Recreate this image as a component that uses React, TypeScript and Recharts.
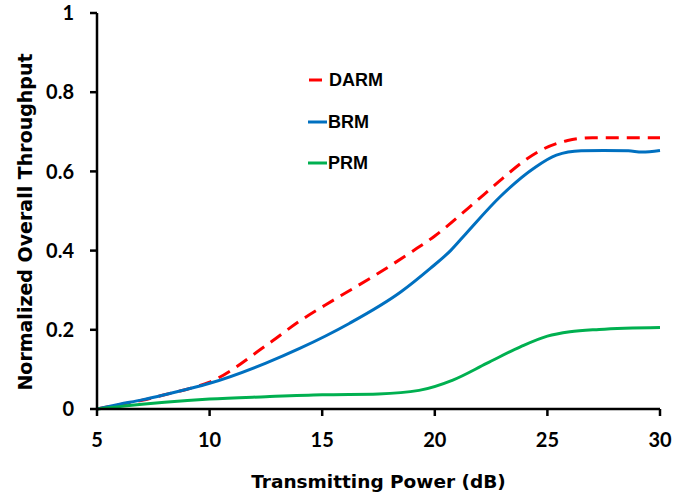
import React from "react";
import { LineChart, Line, XAxis, YAxis } from "recharts";

const xTicks = [5, 10, 15, 20, 25, 30];
const yTicks = [0, 0.2, 0.4, 0.6, 0.8, 1];

const darmX = [5, 6, 7, 8, 9, 10, 12.5, 14, 15.5, 17.3, 19, 20, 21.5, 23, 24, 24.8, 25.9, 27, 28.5, 30];
const darmY = [0, 0.011, 0.022, 0.036, 0.05, 0.068, 0.16, 0.222, 0.275, 0.336, 0.398, 0.437, 0.508, 0.582, 0.628, 0.656, 0.678, 0.685, 0.685, 0.685];

const brmX = [5, 6, 7, 8, 9, 10, 12.5, 14, 16.2, 18.5, 19.8, 20.7, 21.4, 22.9, 24.4, 25.4, 26.5, 27.5, 28.6, 29.2, 30];
const brmY = [0, 0.012, 0.023, 0.036, 0.05, 0.065, 0.116, 0.153, 0.216, 0.296, 0.355, 0.4, 0.444, 0.536, 0.608, 0.641, 0.652, 0.653, 0.652, 0.649, 0.653];

const prmX = [5, 6, 7, 8, 10, 12.5, 15, 17.5, 19.3, 20.8, 22.3, 23.8, 25, 26, 27.3, 30];
const prmY = [0, 0.006, 0.012, 0.017, 0.025, 0.031, 0.036, 0.038, 0.047, 0.073, 0.115, 0.157, 0.184, 0.195, 0.201, 0.206];

const seriesNames = ["DARM", "BRM", "PRM"];
const seriesColors = ["#FF0000", "#0070C0", "#00B050"];

const toData = (xs: number[], ys: number[]) => xs.map((x, i) => ({ x, y: ys[i] }));
const seriesData = [toData(darmX, darmY), toData(brmX, brmY), toData(prmX, prmY)];

const tickFont = { fontFamily: "Lato", fontWeight: 700, fontSize: 20, fill: "#000" };
const titleFont = "DejaVu Sans, sans-serif";
const legendFont = "Liberation Sans, Arial, sans-serif";

export default function App() {
  return (
    <div style={{ position: "absolute", left: 0, top: 0, width: 700, height: 495, background: "#fff" }}>
      <LineChart width={700} height={495} margin={{ top: 13, right: 40, bottom: 56, left: 0 }}>
        <XAxis
          dataKey="x"
          type="number"
          domain={[5, 30]}
          ticks={xTicks}
          height={30}
          allowDuplicatedCategory={false}
          stroke="#000"
          strokeWidth={2.5}
          tickSize={7}
          tickMargin={17}
          tick={tickFont}
          tickLine={{ stroke: "#000", strokeWidth: 2.5 }}
          label={(props: any) => {
            const vb = props.viewBox || { x: 97, width: 563, y: 409 };
            return (
              <text
                x={vb.x + vb.width / 2}
                y={481}
                textAnchor="middle"
                dominantBaseline="central"
                fontFamily={titleFont}
                fontWeight={700}
                fontSize={18.5}
                fill="#000"
              >
                Transmitting Power (dB)
              </text>
            );
          }}
        />
        <YAxis
          type="number"
          domain={[0, 1]}
          ticks={yTicks}
          width={97}
          stroke="#000"
          strokeWidth={2.5}
          tickSize={7}
          tickMargin={16}
          tick={tickFont}
          tickLine={{ stroke: "#000", strokeWidth: 2.5 }}
          label={(props: any) => {
            const vb = props.viewBox || { y: 13, height: 396 };
            const cy = vb.y + vb.height / 2 + 11;
            return (
              <text
                x={25}
                y={cy}
                transform={`rotate(-90 25 ${cy})`}
                textAnchor="middle"
                dominantBaseline="central"
                fontFamily={titleFont}
                fontWeight={700}
                fontSize={19}
                fill="#000"
              >
                Normalized Overall Throughput
              </text>
            );
          }}
        />
        {seriesNames.map((name, i) => (
          <Line
            key={name}
            data={seriesData[i]}
            dataKey="y"
            name={name}
            type="monotone"
            stroke={seriesColors[i]}
            strokeWidth={3}
            strokeDasharray={i === 0 ? "13 8" : undefined}
            dot={false}
            activeDot={false}
            isAnimationActive={false}
          />
        ))}
      </LineChart>
      <div style={{ position: "absolute", left: 307, top: 68 }}>
        {seriesNames.map((name, i) => (
          <div
            key={name}
            style={{ display: "flex", alignItems: "center", height: 24, marginBottom: i < 2 ? 17.5 : 0 }}
          >
            <svg width={21} height={6} style={{ display: "block" }}>
              {i === 0 ? (
                <line x1={2} y1={3} x2={15} y2={3} stroke={seriesColors[i]} strokeWidth={3} />
              ) : (
                <line x1={1} y1={3} x2={20} y2={3} stroke={seriesColors[i]} strokeWidth={3} />
              )}
            </svg>
            <span
              style={{
                marginLeft: i === 0 ? 1 : 0,
                fontFamily: legendFont,
                fontWeight: 700,
                fontSize: 18,
                color: "#000",
                lineHeight: "24px",
              }}
            >
              {name}
            </span>
          </div>
        ))}
      </div>
    </div>
  );
}
